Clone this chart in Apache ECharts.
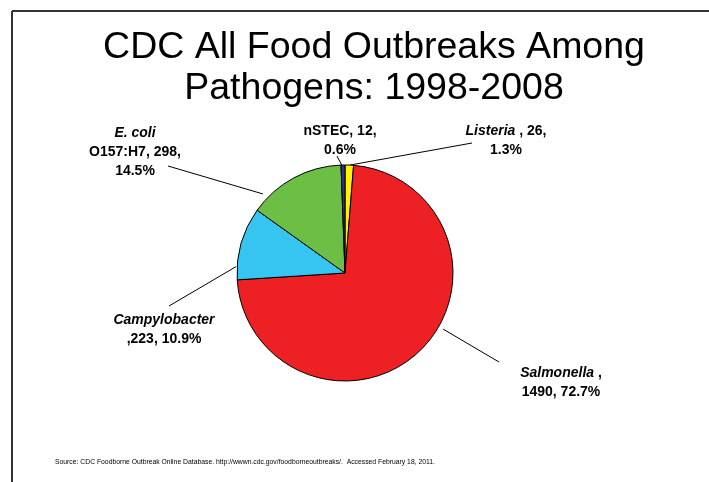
<!DOCTYPE html>
<html>
<head>
<meta charset="utf-8">
<script src="https://cdn.jsdelivr.net/npm/echarts@6/dist/echarts.min.js"></script>
<style>html,body{margin:0;padding:0;background:#fff;}#c{width:709px;height:482px;}</style>
</head>
<body>
<div id="c"></div>
<script>
const titleText = 'CDC All Food Outbreaks Among\nPathogens: 1998-2008';
const sourceText = 'Source: CDC Foodborne Outbreak Online Database. http://wwwn.cdc.gov/foodborneoutbreaks/.  Accessed February 18, 2011.';
const categories = ['Listeria', 'Salmonella', 'Campylobacter', 'E. coli O157:H7', 'nSTEC'];
const values = [26, 1490, 223, 298, 12];

const colors = ['#FFF200', '#ED2024', '#36C5F0', '#6DBE45', '#2E3192'];
// label text layouts per slice
function labelFor(i, v, p) {
  switch (i) {
    case 0: return '{i|Listeria}{b| , ' + v + ',}\n{b|' + p + '%}';
    case 1: return '{i|Salmonella}{b| ,}\n{b|' + v + ', ' + p + '%}';
    case 2: return '{i|Campylobacter}\n{b|,' + v + ', ' + p + '%}';
    case 3: return '{i|E. coli}\n{b|O157:H7, ' + v + ',}\n{b|' + p + '%}';
    default: return '{b|nSTEC, ' + v + ',}\n{b|' + p + '%}';
  }
}
// layout: label anchor centres, leader-line end offsets from label centre,
// and where along each slice's arc the leader line starts (fraction, radial gap)
const center = [345, 273];
const radius = 108;
const labelPos = [[506, 141], [561, 383], [164, 330], [135, 152], [340, 141]];
const lineEndOffset = [[-34, 2], [-62, -21], [5, -24], [33, 14], [-3, 15]];
const lineStartFrac = [[0.55, 0], [0.44, 5], [0.18, 1], [0.16, 6], [0.3, -1]];

const total = values.reduce((a, b) => a + b, 0);
const cum = [];
values.reduce((acc, v) => { cum.push(acc); return acc + v; }, 0);

const chart = echarts.init(document.getElementById('c'), null, {renderer: 'canvas'});
chart.setOption({
  animation: false,
  backgroundColor: '#ffffff',
  title: {
    text: titleText,
    left: 369, top: 22, textAlign: 'center',
    textStyle: {fontFamily: 'Liberation Sans, Arial', fontSize: 37.5, fontWeight: 'normal', color: '#000', lineHeight: 41}
  },
  graphic: [
    {type: 'line', shape: {x1: 12, y1: 11, x2: 709, y2: 11}, style: {stroke: '#333', lineWidth: 2}},
    {type: 'line', shape: {x1: 12, y1: 11, x2: 12, y2: 482}, style: {stroke: '#333', lineWidth: 2}},
    {type: 'text', left: 55, top: 459, style: {text: sourceText, fontFamily: 'Liberation Sans, Arial', fontSize: 6.8, fill: '#000'}}
  ],
  series: [{
    type: 'pie',
    center: center,
    radius: radius,
    startAngle: 90,
    clockwise: true,
    avoidLabelOverlap: false,
    itemStyle: {borderColor: '#000', borderWidth: 1},
    label: {
      show: true,
      formatter: (p) => labelFor(p.dataIndex, p.value, (p.value / total * 100).toFixed(1)),
      align: 'center',
      rich: {
        i: {fontFamily: 'Liberation Sans, Arial', fontSize: 14, fontWeight: 'bold', fontStyle: 'italic', color: '#000', lineHeight: 19},
        b: {fontFamily: 'Liberation Sans, Arial', fontSize: 14, fontWeight: 'bold', color: '#000', lineHeight: 19}
      }
    },
    labelLine: {show: true, length: 10, length2: 10, lineStyle: {color: '#000', width: 1}},
    labelLayout: function (params) {
      const i = params.dataIndex;
      const pos = labelPos[i];
      const f = lineStartFrac[i];
      const ang = (cum[i] + values[i] * f[0]) / total * 2 * Math.PI; // clockwise from top
      const r = radius + f[1];
      const start = [center[0] + r * Math.sin(ang), center[1] - r * Math.cos(ang)];
      const end = [pos[0] + lineEndOffset[i][0], pos[1] + lineEndOffset[i][1]];
      return {x: pos[0], y: pos[1], align: 'center', verticalAlign: 'middle', labelLinePoints: [start, end, end]};
    },
    data: categories.map((c, i) => ({name: c, value: values[i], itemStyle: {color: colors[i]}}))
  }]
});
</script>
</body>
</html>
